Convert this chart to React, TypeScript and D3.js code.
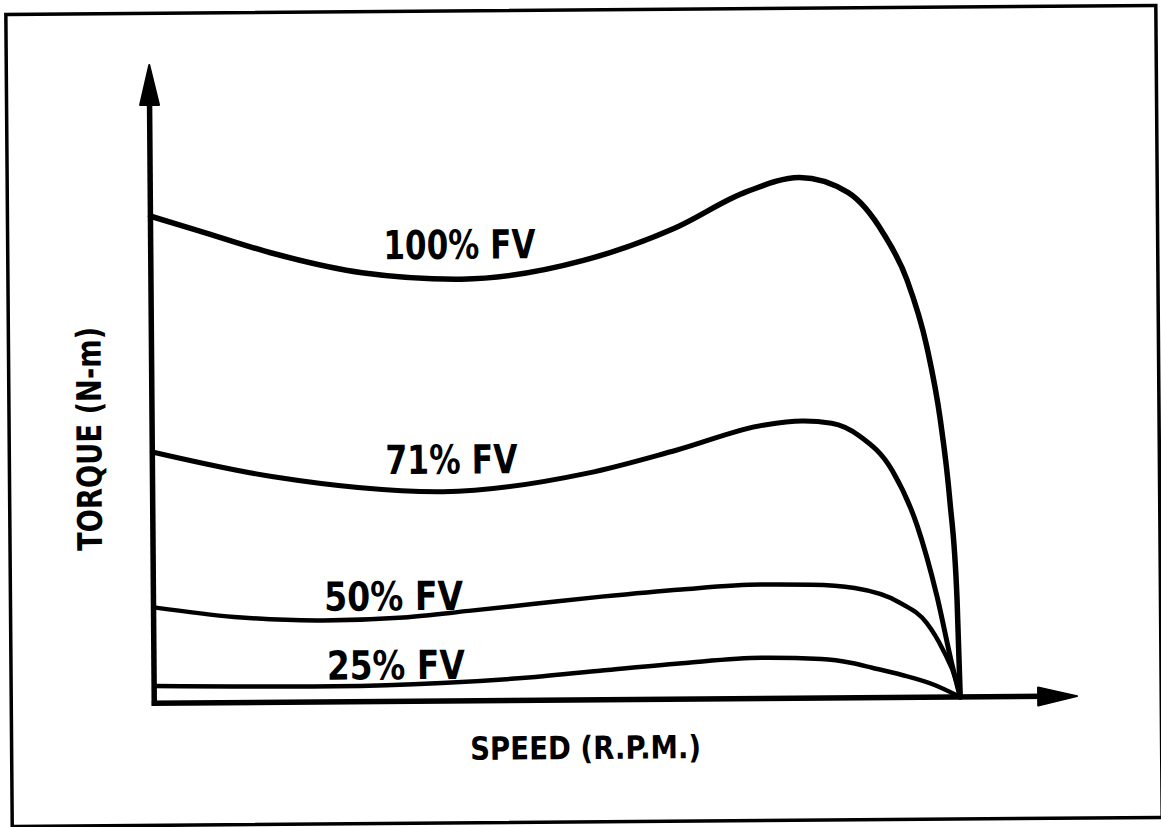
import React from "react";
import * as d3 from "d3";

// ---- data (speed in % of synchronous speed, torque in arbitrary units) ----
const speed100 = [0, 6, 15, 26.2, 38.5, 53.8, 65, 74, 80.5, 86.6, 90.9, 93.8, 96.2, 97.8, 98.9, 99.7, 100];
const torque100 = [81.2, 78.7, 74.9, 71.5, 70.3, 73.3, 78.5, 84.5, 86.8, 84.2, 77.4, 69.6, 58.4, 46.2, 32.8, 16.2, 0];

const speed71 = [0, 15, 36, 54, 65, 76, 80.7, 84.3, 87.8, 91.8, 94.8, 97.2, 99.1, 100];
const torque71 = [41.9, 37.6, 34.9, 37.8, 41.5, 45.6, 46.2, 45.8, 43.6, 37.8, 28.7, 16.9, 4.9, 0];

const speed50 = [0, 10, 21, 31, 39.1, 47.3, 55.6, 65.5, 75.4, 81.6, 87, 92.6, 95.9, 97.9, 99.6, 100];
const torque50 = [16.0, 14.3, 13.6, 14.0, 15.0, 16.1, 17.2, 18.3, 19.0, 18.9, 18.3, 15.8, 12.4, 7.9, 2.3, 0];

const speed25 = [0, 22.5, 35.7, 47.3, 55.6, 65.5, 75.4, 82.8, 86.6, 89.1, 92.8, 96.9, 100];
const torque25 = [2.9, 2.6, 3.0, 3.9, 4.9, 6.0, 6.8, 6.5, 5.8, 5.0, 3.75, 2.0, 0];

const seriesLabels = ["100% FV", "71% FV", "50% FV", "25% FV"];
const labelSpeed = [38.3, 37.1, 29.8, 30.0]; // label centre (speed units)
const labelTorque = [73.7, 37.9, 15.2, 3.7]; // label baseline (torque units)

const xAxisTitle = "SPEED (R.P.M.)";
const yAxisTitle = "TORQUE (N-m)";
const speedAxisMax = 114.5;
const torqueAxisMax = 106.4;

export default function App() {
  const W = 1161;
  const H = 827;
  const x = d3.scaleLinear().domain([0, 100]).range([152, 958]);
  const y = d3.scaleLinear().domain([0, 100]).range([700, 100]);

  const line = d3
    .line<[number, number]>()
    .x((d) => x(d[0]))
    .y((d) => y(d[1]))
    .curve(d3.curveMonotoneX);

  const series = [
    { s: speed100, t: torque100, w: 5.5 },
    { s: speed71, t: torque71, w: 5 },
    { s: speed50, t: torque50, w: 4.5 },
    { s: speed25, t: torque25, w: 4.5 },
  ];

  const x0 = x(0);
  const y0 = y(0);
  const xTip = x(speedAxisMax);
  const yTip = y(torqueAxisMax);
  const font = "'DejaVu Sans Condensed', 'DejaVu Sans', sans-serif";
  const labelWidths = [152, 132, 139, 138];

  return (
    <svg
      width={W}
      height={H}
      style={{ position: "absolute", left: 0, top: 0, background: "#fff" }}
    >
      <rect x={0} y={0} width={W} height={H} fill="#fff" />
      <g transform="rotate(-0.45 580 413)">
        {/* frame */}
        <rect x={9} y={10} width={1150} height={812} fill="none" stroke="#000" strokeWidth={3.5} />

        {/* axes */}
        <line x1={x0} y1={y0 + 2.5} x2={x0} y2={yTip + 30} stroke="#000" strokeWidth={5.5} />
        <path
          d={`M${x0},${yTip} L${x0 + 9.5},${yTip + 40} L${x0 - 9.5},${yTip + 40} Z`}
          fill="#000"
          stroke="#000"
          strokeWidth={2}
          strokeLinejoin="round"
        />
        <line x1={x0 - 2.5} y1={y0} x2={xTip - 30} y2={y0} stroke="#000" strokeWidth={5.5} />
        <path
          d={`M${xTip},${y0} L${xTip - 39},${y0 - 9} L${xTip - 39},${y0 + 9} Z`}
          fill="#000"
          stroke="#000"
          strokeWidth={2}
          strokeLinejoin="round"
        />

        {/* curves */}
        {series.map((sr, i) => (
          <path
            key={i}
            d={line(sr.s.map((v, j) => [v, sr.t[j]] as [number, number])) || ""}
            fill="none"
            stroke="#000"
            strokeWidth={sr.w}
            strokeLinecap="round"
            strokeLinejoin="round"
          />
        ))}

        {/* curve labels */}
        {seriesLabels.map((lab, i) => (
          <text
            key={lab}
            x={x(labelSpeed[i])}
            y={y(labelTorque[i])}
            textAnchor="middle"
            fontFamily={font}
            fontWeight="bold"
            fontSize={40}
            textLength={labelWidths[i]}
            lengthAdjust="spacingAndGlyphs"
            fill="#000"
          >
            {lab}
          </text>
        ))}

        {/* axis titles */}
        <text
          x={583}
          y={759}
          textAnchor="middle"
          fontFamily={font}
          fontWeight="bold"
          fontSize={32}
          textLength={231}
          lengthAdjust="spacingAndGlyphs"
          fill="#000"
        >
          {xAxisTitle}
        </text>
        <text
          transform={`translate(101,435) rotate(-90)`}
          textAnchor="middle"
          fontFamily={font}
          fontWeight="bold"
          fontSize={34}
          textLength={224}
          lengthAdjust="spacingAndGlyphs"
          fill="#000"
        >
          {yAxisTitle}
        </text>
      </g>
    </svg>
  );
}
